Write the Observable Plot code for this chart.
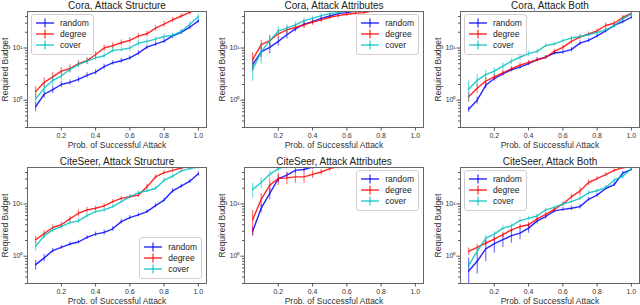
<!DOCTYPE html>
<html><head><meta charset="utf-8">
<script src="https://cdn.jsdelivr.net/npm/d3@7"></script>
<script src="https://cdn.jsdelivr.net/npm/@observablehq/plot@0.6"></script>
<style>
body{margin:0;background:#fff;font-family:"Liberation Sans",Arial,sans-serif}
#root{position:relative;width:640px;height:305px;overflow:hidden;background:#fff}
.panel{position:absolute}
.legend{position:absolute;box-sizing:border-box;border:1px solid #cfcfcf;border-radius:3px;background:rgba(255,255,255,0.8);padding:3px 4px 3px 4px;font-size:8.5px;color:#222}
.legend .row{display:flex;align-items:center;height:11.2px;white-space:nowrap}
.legend svg{margin-right:6px}
</style></head><body><div id="root"></div><script>
const probs = [0.05,0.10,0.15,0.20,0.25,0.30,0.35,0.40,0.45,0.50,0.55,0.60,0.65,0.70,0.75,0.80,0.85,0.90,0.95,1.00];
const methods = ["random","degree","cover"];
const methodColors = ["#0000ff","#ff0000","#00bfbf"];
const panelTitles = ["Cora, Attack Structure","Cora, Attack Attributes","Cora, Attack Both","CiteSeer, Attack Structure","CiteSeer, Attack Attributes","CiteSeer, Attack Both"];
const legendSpots = ["upper left","upper right","upper left","lower right","upper right","upper left"];
const xTicks = [0.2,0.4,0.6,0.8,1.0];
const yMajorTicks = [1,10];
const yMajorLabels = ["10⁰","10¹"];
const yMinorTicks = [0.3,0.4,0.5,0.6,0.7,0.8,0.9,2,3,4,5,6,7,8,9,20,30,40];
const xLabel = "Prob. of Successful Attack";
const yLabel = "Required Budget";

// Cora, Attack Structure
const coraStructRandom = [0.75,1.3,1.6,2.0,2.2,2.5,3.0,3.45,4.4,5.2,5.7,6.45,8.0,10.4,11.9,13.5,17,20,25,33];
const coraStructRandomErr = [0.15,0.2,0.25,0.25,0.25,0.3,0.35,0.4,0.5,0.5,0.6,0.6,0.8,1.0,1.2,1.3,1.6,1.8,2.2,3];
const coraStructDegree = [1.46,2.2,2.8,3.6,4.05,5.0,5.7,7.5,10,11.1,12.6,14,16.9,18.7,24,28.6,34.5,41,48,57];
const coraStructDegreeErr = [0.35,0.45,0.55,0.6,0.7,0.7,0.8,1.0,1.4,1.5,1.6,1.8,2.0,2.3,2.8,3.5,4,4.5,5,6];
const coraStructCover = [1.05,1.7,2.4,2.9,3.9,4.8,5.6,6.45,7.1,9.0,9.3,10,12.4,13.4,14.8,16.6,17.4,20.7,28.6,40];
const coraStructCoverErr = [0.25,0.35,0.5,0.5,0.5,0.6,0.7,0.8,0.8,1.0,1.0,1.2,1.5,1.5,1.7,1.8,2.0,2.2,3,4];
// Cora, Attack Attributes
const coraAttrRandom = [4.8,8.4,10.3,13.4,17.9,23.3,28.6,32,37,41,45.5,47.5,51,54,58,62,66,70,75,80];
const coraAttrRandomErr = [1.2,1.8,2.5,2.5,3,3,3.5,3.5,4,4,4,4,4,4,4,4,4,4,4,4];
const coraAttrDegree = [6.0,11.6,13.8,18.7,22.3,24.7,27.7,31.2,34.5,38.8,41.7,44.3,46.2,47.5,51,54,57,61,65,70];
const coraAttrDegreeErr = [2.2,2.5,3.5,3.5,3.5,3.5,4,4,4,4,4,4,4,4,4,4,4,4,4,4];
const coraAttrCover = [3.9,8.4,13.8,21.3,24,27.7,33.5,37,41.7,45.5,47.5,52,56,60,64,68,72,76,80,85];
const coraAttrCoverErr = [1.6,3.5,3.5,4,4,4,4,4,4,4,4,4,4,4,4,4,4,4,4,4];
// Cora, Attack Both
const coraBothRandom = [0.67,1.0,1.93,2.6,3.2,3.8,4.3,5.0,6.0,6.65,8.0,8.4,9.3,12.4,14,17.1,21.3,27,32,38.8];
const coraBothRandomErr = [0.08,0.15,0.25,0.3,0.3,0.3,0.35,0.4,0.5,0.5,0.7,0.8,0.9,1.2,1.3,1.5,2,2.5,3,3];
const coraBothDegree = [1.17,1.7,2.33,2.8,3.35,4.0,4.7,5.3,5.9,6.65,8.6,10.3,13.4,16.2,18.7,21.3,27,29.8,38.8,46];
const coraBothDegreeErr = [0.25,0.35,0.35,0.35,0.35,0.4,0.45,0.5,0.5,0.5,0.8,1.0,1.5,1.5,1.5,2,3,3,3.5,4];
const coraBothCover = [1.62,2.4,3.1,3.6,4.5,5.6,6.65,7.8,8.6,11.1,11.9,13.8,15.5,16.6,17.9,19.8,22.3,26.5,36,45];
const coraBothCoverErr = [0.7,0.7,0.6,0.6,0.7,0.8,0.8,0.9,0.9,1.0,1.0,1.2,1.3,1.4,1.5,1.5,1.8,2.2,3,4];
// CiteSeer, Attack Structure
const citeStructRandom = [0.69,0.93,1.28,1.48,1.71,1.87,2.3,2.65,2.86,3.35,4.6,5.5,6.2,7.15,9.3,11.9,17.9,22,27.3,38];
const citeStructRandomErr = [0.15,0.15,0.12,0.12,0.15,0.15,0.2,0.25,0.3,0.35,0.45,0.5,0.5,0.6,0.8,1.0,1.8,2,2.5,3.5];
const citeStructDegree = [2.07,2.7,3.55,4.0,5.2,6.65,7.7,8.3,9.2,11.1,12.8,13.8,14.8,21.3,33,40,44,49,52,55];
const citeStructDegreeErr = [0.35,0.4,0.4,0.5,0.6,1.0,1.0,0.8,0.9,1.0,1.1,1.2,1.5,2.5,3,3.5,4,4,4,4];
const citeStructCover = [1.55,2.47,3.2,3.7,4.4,4.75,6.0,7.15,7.7,8.9,11.1,13.8,16.4,17.9,19.8,28.6,34,43,47.5,51];
const citeStructCoverErr = [0.3,0.3,0.35,0.4,0.5,0.5,0.6,0.7,0.8,0.8,1.0,1.2,1.4,1.5,1.8,2.5,3,3.5,4,4];
// CiteSeer, Attack Attributes
const citeAttrRandom = [3.0,8.3,16,30.7,35.6,44,45.7,51,55,59,63,67,71,75,79,83,87,91,95,99];
const citeAttrRandomErr = [0.6,1.5,4,5,5,5,5,5,5,5,5,5,5,5,5,5,5,5,5,5];
const citeAttrDegree = [5.0,12.3,23,30.7,31.6,33,33,37,41,47.5,52,56,60,64,68,72,76,80,85,90];
const citeAttrDegreeErr = [2.5,3.5,7,8,8,8,8,6,5,5,5,5,5,5,5,5,5,5,5,5];
const citeAttrCover = [19,25.8,37,47.5,53,58,63,68,73,78,83,88,93,98,103,108,113,118,123,128];
const citeAttrCoverErr = [6,6,6,6,6,6,6,6,6,6,6,6,6,6,6,6,6,6,6,6];
// CiteSeer, Attack Both
const citeBothRandom = [0.52,0.8,1.38,1.74,2.07,2.47,2.77,3.45,4.75,5.75,7.4,7.9,8.3,8.9,12.3,14.8,19.8,23.6,39,46];
const citeBothRandomErr = [0.4,0.35,0.6,0.6,0.6,0.7,0.7,0.7,0.6,0.6,0.7,0.7,0.8,0.9,1.0,1.2,1.5,2,3,3];
const citeBothDegree = [1.24,1.48,1.79,2.13,2.58,3.2,3.7,4.0,5.2,6.35,7.9,10,13.8,17.7,25.8,30.7,36.5,44,50,51];
const citeBothDegreeErr = [0.2,0.2,0.2,0.25,0.3,0.35,0.4,0.45,0.5,0.6,0.7,0.8,1.5,3,3,3,3,3.5,4,4];
const citeBothCover = [0.67,1.24,2.23,2.65,3.45,3.8,4.8,5.3,5.9,7.7,8.6,10,11.1,12.8,16.4,17.9,20.7,28.6,34,47.5];
const citeBothCoverErr = [0.1,0.2,0.3,0.3,0.35,0.35,0.4,0.4,0.5,0.6,0.6,0.8,1.0,1.2,1.5,1.5,1.8,2.5,4,4];

const panelSeries = [
  [[coraStructRandom,coraStructRandomErr],[coraStructDegree,coraStructDegreeErr],[coraStructCover,coraStructCoverErr]],
  [[coraAttrRandom,coraAttrRandomErr],[coraAttrDegree,coraAttrDegreeErr],[coraAttrCover,coraAttrCoverErr]],
  [[coraBothRandom,coraBothRandomErr],[coraBothDegree,coraBothDegreeErr],[coraBothCover,coraBothCoverErr]],
  [[citeStructRandom,citeStructRandomErr],[citeStructDegree,citeStructDegreeErr],[citeStructCover,citeStructCoverErr]],
  [[citeAttrRandom,citeAttrRandomErr],[citeAttrDegree,citeAttrDegreeErr],[citeAttrCover,citeAttrCoverErr]],
  [[citeBothRandom,citeBothRandomErr],[citeBothDegree,citeBothDegreeErr],[citeBothCover,citeBothCoverErr]]
];

// layout
const frameLefts = [27, 244, 460];
const frameTops = [11, 167];
const frameW = 179, frameH = 116;
const mL = 27, mR = 3, mT = 11, mB = 30;

const root = document.getElementById("root");
const font = '"Liberation Sans", Arial, sans-serif';

panelTitles.forEach((title, p) => {
  const col = p % 3, row = Math.floor(p / 3);
  const series = panelSeries[p];
  const marks = [];
  methods.forEach((m, k) => {
    const [vals, errs] = series[k];
    const rows = probs.map((x, i) => ({method: m, x, y: vals[i], lo: Math.max(vals[i] - errs[i], 0.01), hi: vals[i] + errs[i]}));
    marks.push(Plot.ruleX(rows, {x: "x", y1: "lo", y2: "hi", stroke: "method", strokeWidth: 1.2, strokeOpacity: 0.55, clip: true}));
    marks.push(Plot.line(rows, {x: "x", y: "y", stroke: "method", strokeWidth: 1.4, strokeOpacity: 0.85, clip: true}));
  });
  const svg = Plot.plot({
    width: mL + frameW + mR,
    height: mT + frameH + mB,
    marginLeft: mL, marginRight: mR, marginTop: mT, marginBottom: mB,
    style: {fontFamily: font, fontSize: "7px", color: "#555", background: "transparent", overflow: "visible"},
    x: {domain: [0.0025, 1.0475]},
    y: {type: "log", domain: [0.3, 50]},
    color: {domain: methods, range: methodColors},
    marks: [
      ...marks,
      Plot.frame({stroke: "#666", strokeWidth: 1}),
      Plot.axisX({ticks: xTicks, tickSize: 3.5, tickPadding: 2, tickFormat: d => d.toFixed(1), label: null, fill: "#333"}),
      Plot.axisY({ticks: yMajorTicks, tickSize: 3.5, tickPadding: 1.5, tickFormat: d => yMajorLabels[yMajorTicks.indexOf(d)], label: null, fill: "#333"}),
      Plot.axisY({ticks: yMinorTicks, tickSize: 2, tickFormat: () => "", label: null}),
      Plot.text([title], {frameAnchor: "top", lineAnchor: "middle", dy: -5.3, fontSize: 10, fill: "#222"}),
      Plot.text([xLabel], {frameAnchor: "bottom", lineAnchor: "middle", dy: 17.5, fontSize: 8.5, fill: "#333"}),
      Plot.text([yLabel], {frameAnchor: "left", textAnchor: "middle", lineAnchor: "middle", dx: -22, rotate: -90, fontSize: 8.5, fill: "#333"})
    ]
  });
  svg.classList.add("panel");
  svg.style.left = (frameLefts[col] - mL) + "px";
  svg.style.top = (frameTops[row] - mT) + "px";
  root.appendChild(svg);

  // legend
  const lg = document.createElement("div");
  lg.className = "legend";
  methods.forEach((m, k) => {
    const r = document.createElement("div");
    r.className = "row";
    r.innerHTML = `<svg width="18" height="10"><line x1="0" x2="18" y1="5" y2="5" stroke="${methodColors[k]}" stroke-width="1.4" stroke-opacity="0.85"/><line x1="9" x2="9" y1="0.5" y2="9.5" stroke="${methodColors[k]}" stroke-width="1.2" stroke-opacity="0.85"/></svg><span>${m}</span>`;
    lg.appendChild(r);
  });
  root.appendChild(lg);
  const spot = legendSpots[p];
  const fl = frameLefts[col], ft = frameTops[row];
  if (spot.includes("left")) lg.style.left = (fl + 4) + "px";
  else lg.style.right = (640 - (fl + frameW) + 4) + "px";
  if (spot.includes("upper")) lg.style.top = (ft + 2.5) + "px";
  else lg.style.bottom = (305 - (ft + frameH) + 4) + "px";
});
</script></body></html>
